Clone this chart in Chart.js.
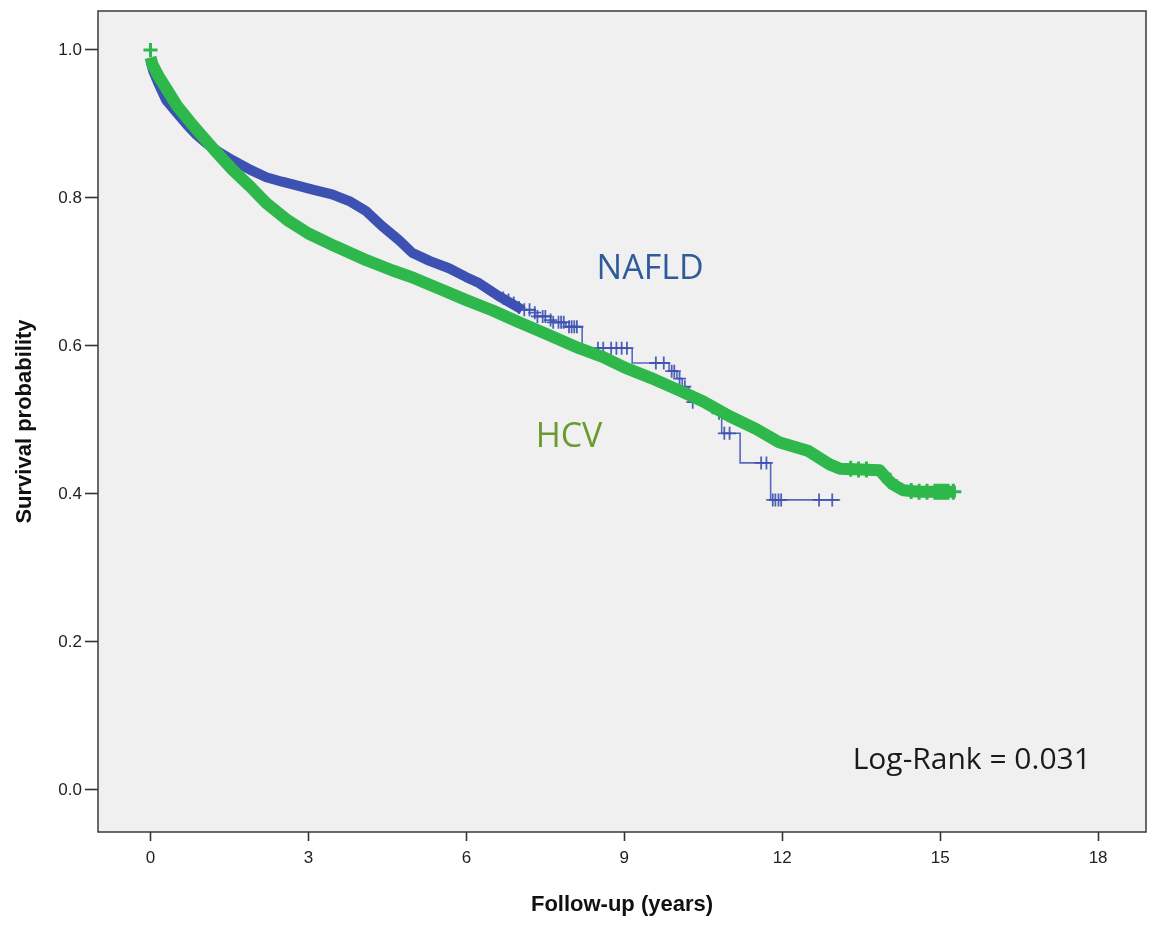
<!DOCTYPE html>
<html>
<head>
<meta charset="utf-8">
<script src="https://cdn.jsdelivr.net/npm/chart.js@4.4.1/dist/chart.umd.min.js"></script>
<style>
  html, body { margin: 0; padding: 0; background: #ffffff; }
  #wrap { width: 1157px; height: 925px; }
</style>
</head>
<body>
<div id="wrap"><canvas id="kmChart" width="1157" height="925"></canvas></div>
<script>
// follow-up years / survival
const hcvX = [0, 0.04, 0.15, 0.3, 0.5, 0.75, 0.93, 1.2, 1.56, 1.9, 2.2, 2.6, 3.0, 3.5, 4.1, 4.6, 5.0, 5.5, 6.0, 6.5, 7.0, 7.5, 8.14, 8.6, 9.0, 9.5, 10.04, 10.5, 11.0, 11.5, 11.94, 12.5, 12.9, 13.1, 13.5, 13.85, 14.0, 14.1, 14.3, 14.6, 15.0, 15.3];
const hcvY = [0.99, 0.98, 0.965, 0.948, 0.925, 0.903, 0.888, 0.866, 0.838, 0.815, 0.793, 0.77, 0.752, 0.735, 0.716, 0.702, 0.692, 0.677, 0.662, 0.648, 0.632, 0.617, 0.597, 0.585, 0.571, 0.557, 0.54, 0.525, 0.505, 0.488, 0.47, 0.458, 0.44, 0.434, 0.433, 0.432, 0.42, 0.413, 0.405, 0.403, 0.403, 0.403];
const hcvStartX = [0];
const hcvStartY = [1.0];
const hcvCensorX = [13.3, 13.45, 13.6, 14.05, 14.45, 14.6, 14.75, 14.9, 14.95, 15.0, 15.05, 15.1, 15.15, 15.25];
const hcvCensorY = [0.434, 0.433, 0.433, 0.418, 0.404, 0.403, 0.403, 0.403, 0.403, 0.403, 0.403, 0.403, 0.403, 0.403];

const nafldX = [0, 0.05, 0.15, 0.3, 0.5, 0.68, 0.85, 1.06, 1.3, 1.56, 1.9, 2.2, 2.5, 2.83, 3.1, 3.45, 3.8, 4.1, 4.4, 4.72, 4.97, 5.3, 5.67, 6.0, 6.24, 6.6, 7.06];
const nafldY = [0.985, 0.972, 0.955, 0.932, 0.915, 0.9, 0.887, 0.874, 0.862, 0.851, 0.838, 0.828, 0.822, 0.816, 0.811, 0.805, 0.795, 0.782, 0.762, 0.743, 0.726, 0.715, 0.705, 0.693, 0.685, 0.668, 0.649];
const nafldTailX = [7.06, 7.3, 7.6, 7.89, 8.2, 9.15, 9.85, 10.0, 10.1, 10.23, 10.67, 10.85, 11.2, 11.78, 13.1];
const nafldTailY = [0.649, 0.64, 0.632, 0.626, 0.597, 0.577, 0.566, 0.556, 0.545, 0.524, 0.509, 0.482, 0.442, 0.392, 0.392];
const nafldCensorX = [6.7, 6.8, 6.9, 7.0, 7.1, 7.2, 7.3, 7.35, 7.45, 7.5, 7.6, 7.65, 7.75, 7.8, 7.85, 7.95, 8.0, 8.05, 8.1, 8.5, 8.6, 8.75, 8.85, 8.95, 9.05, 9.6, 9.75, 9.9, 9.95, 10.05, 10.15, 10.3, 10.8, 10.9, 11.0, 11.6, 11.7, 11.82, 11.87, 11.93, 11.98, 12.7, 12.95];
const nafldCensorY = [0.665, 0.662, 0.658, 0.652, 0.649, 0.649, 0.645, 0.64, 0.64, 0.64, 0.635, 0.632, 0.632, 0.632, 0.632, 0.626, 0.626, 0.626, 0.626, 0.597, 0.597, 0.597, 0.597, 0.597, 0.597, 0.577, 0.577, 0.566, 0.566, 0.556, 0.545, 0.524, 0.509, 0.482, 0.482, 0.442, 0.442, 0.392, 0.392, 0.392, 0.392, 0.392, 0.392];

const xTicks = [0, 3, 6, 9, 12, 15, 18];
const yTicks = [0, 0.2, 0.4, 0.6, 0.8, 1.0];

const noteText = ["NAFLD", "HCV", "Log-Rank = 0.031"];
const noteX = [9.49, 7.95, 15.6];
const noteY = [0.703, 0.476, 0.04];

const toPoints = (xs, ys) => xs.map((x, i) => ({ x: x, y: ys[i] }));

const blue = "#3c51b2";
const green = "#2eb84b";

// grey plot area + frame + the text labels inside the plot
const framePlugin = {
  id: "frame",
  beforeDraw(chart) {
    const { ctx, chartArea: a } = chart;
    ctx.save();
    ctx.fillStyle = "#f0f0f0";
    ctx.fillRect(a.left, a.top, a.right - a.left, a.bottom - a.top);
    ctx.restore();
  },
  afterDraw(chart) {
    const { ctx, chartArea: a, scales } = chart;
    ctx.save();
    ctx.strokeStyle = "#3a3a3a";
    ctx.lineWidth = 1.5;
    ctx.strokeRect(a.left, a.top, a.right - a.left, a.bottom - a.top);

    const colors = ["#2f5b9b", "#6b9a2f", "#1a1a1a"];
    const fonts = ["34px 'Open Sans'", "34px 'Open Sans'", "30px 'Open Sans'"];
    ctx.textAlign = "center";
    ctx.textBaseline = "middle";
    noteText.forEach((t, i) => {
      ctx.fillStyle = colors[i];
      ctx.font = fonts[i];
      ctx.fillText(t, scales.x.getPixelForValue(noteX[i]), scales.y.getPixelForValue(noteY[i]));
    });
    ctx.restore();
  },
};

const chart = new Chart(document.getElementById("kmChart"), {
  type: "line",
  data: {
    datasets: [
      {
        label: "HCV start",
        data: toPoints(hcvStartX, hcvStartY),
        showLine: false,
        pointStyle: "cross",
        pointRadius: 7,
        pointBorderWidth: 3,
        borderColor: green,
        order: 0,
      },
      {
        label: "HCV censored",
        data: toPoints(hcvCensorX, hcvCensorY),
        showLine: false,
        pointStyle: "cross",
        pointRadius: 8,
        pointBorderWidth: 3,
        borderColor: green,
        order: 1,
      },
      {
        label: "HCV",
        data: toPoints(hcvX, hcvY),
        borderColor: green,
        borderWidth: 12,
        borderCapStyle: "butt",
        borderJoinStyle: "round",
        pointRadius: 0,
        tension: 0,
        order: 2,
      },
      {
        label: "NAFLD censored",
        data: toPoints(nafldCensorX, nafldCensorY),
        showLine: false,
        pointStyle: "cross",
        pointRadius: 6.5,
        pointBorderWidth: 1.8,
        borderColor: "rgba(60,81,178,0.9)",
        order: 3,
      },
      {
        label: "NAFLD tail",
        data: toPoints(nafldTailX, nafldTailY),
        stepped: "before",
        borderColor: "rgba(60,81,178,0.85)",
        borderWidth: 1.6,
        pointRadius: 0,
        order: 4,
      },
      {
        label: "NAFLD",
        data: toPoints(nafldX, nafldY),
        borderColor: blue,
        borderWidth: 10,
        borderCapStyle: "butt",
        borderJoinStyle: "round",
        pointRadius: 0,
        tension: 0,
        order: 5,
      },
    ],
  },
  options: {
    responsive: false,
    animation: false,
    events: [],
    layout: { padding: { top: 5, right: 5, left: 0, bottom: 0 } },
    plugins: { legend: { display: false }, tooltip: { enabled: false } },
    scales: {
      x: {
        type: "linear",
        min: -0.997,
        max: 18.91,
        afterBuildTicks: (scale) => { scale.ticks = xTicks.map((v) => ({ value: v })); },
        afterFit: (scale) => {
          scale.height = 93;
          scale.paddingLeft = 0;
          scale.paddingRight = 0;
        },
        border: { display: false },
        grid: { drawOnChartArea: false, drawTicks: true, tickLength: 9, tickColor: "#333", tickWidth: 1.6 },
        ticks: { color: "#222", padding: 7, font: { family: "'Liberation Sans', Arial", size: 17 }, maxRotation: 0 },
        title: {
          display: true,
          text: "Follow-up (years)",
          color: "#111",
          padding: { top: 0, bottom: 7 },
          font: { family: "'Liberation Sans', Arial", size: 22, weight: "bold" },
        },
      },
      y: {
        type: "linear",
        min: -0.0568,
        max: 1.0527,
        afterBuildTicks: (scale) => { scale.ticks = yTicks.map((v) => ({ value: v })); },
        afterFit: (scale) => {
          scale.width = 98;
          scale.paddingTop = 0;
          scale.paddingBottom = 0;
        },
        border: { display: false },
        grid: { drawOnChartArea: false, drawTicks: true, tickLength: 13, tickColor: "#333", tickWidth: 1.6 },
        ticks: {
          color: "#222",
          padding: 3,
          font: { family: "'Liberation Sans', Arial", size: 17 },
          callback: (v) => Number(v).toFixed(1),
        },
        title: {
          display: true,
          text: "Survival probability",
          color: "#111",
          padding: { top: 12, bottom: 0 },
          font: { family: "'Liberation Sans', Arial", size: 22, weight: "bold" },
        },
      },
    },
  },
  plugins: [framePlugin],
});
</script>
</body>
</html>
